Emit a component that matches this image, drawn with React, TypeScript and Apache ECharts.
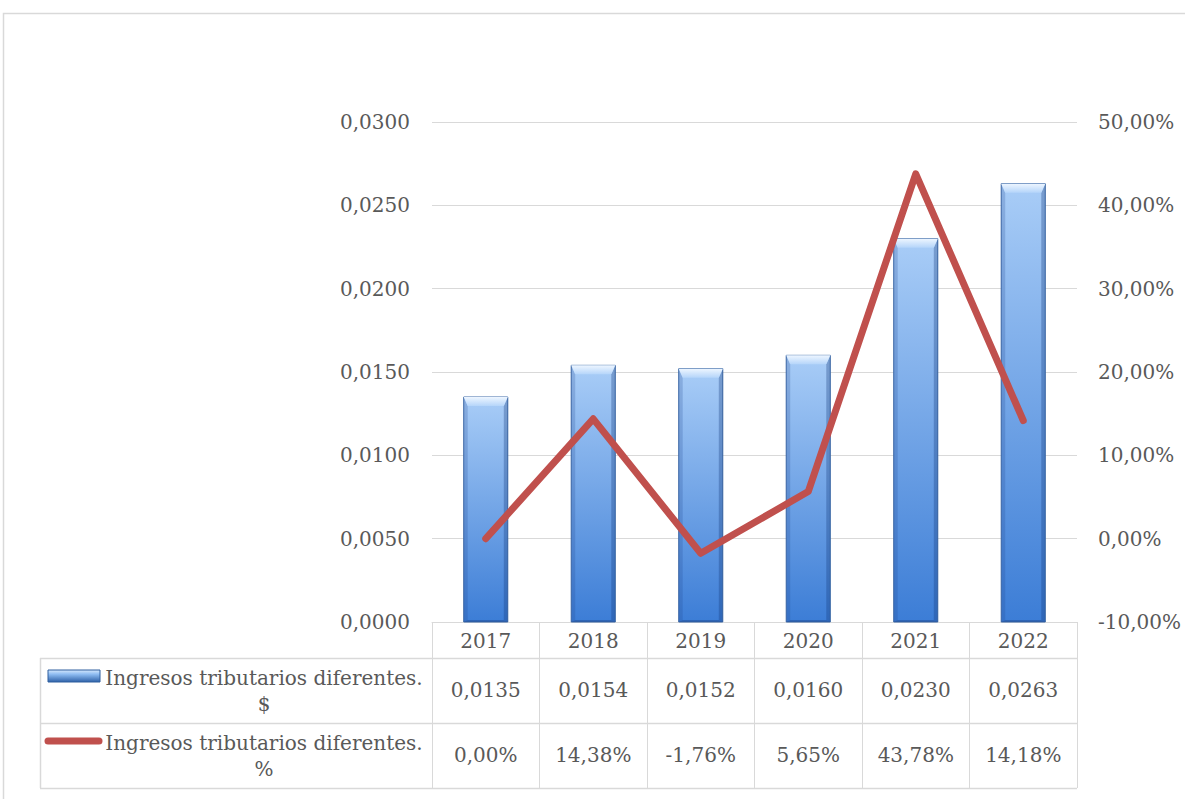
import React, { useEffect, useRef } from "react";
import * as echarts from "echarts";

const years = ["2017", "2018", "2019", "2020", "2021", "2022"];
const barValues = [0.0135, 0.0154, 0.0152, 0.016, 0.023, 0.0263];
const pctValues = [0.0, 14.38, -1.76, 5.65, 43.78, 14.18];
const seriesNames = ["Ingresos tributarios diferentes. $", "Ingresos tributarios diferentes. %"];

const FONT = "DejaVu Serif";
const TXT = "#595959";
const GRIDC = "#d9d9d9";
const W = 1185;
const H = 799;
const G = { left: 432, right: 108, top: 122, bottom: 177 };
const AXIS_Y = H - G.bottom;
const ROW1 = 36;
const ROW2 = 65;
const TABLE_LEFT = 40;

const fmt4 = (v: number) => v.toFixed(4).replace(".", ",");
const fmtPct = (v: number) => v.toFixed(2).replace(".", ",") + "%";
const wrapName = (s: string) => {
  const k = s.lastIndexOf(" ");
  return s.slice(0, k) + "\n" + s.slice(k + 1);
};

export default function App() {
  const ref = useRef<HTMLDivElement>(null);
  useEffect(() => {
    if (!ref.current) return;
    const chart = echarts.init(ref.current, null, { renderer: "svg" });
    const plotRight = W - G.right;
    const y1 = AXIS_Y + ROW1;
    const y2 = y1 + ROW2;
    const y3 = y2 + ROW2;
    const labelStyle = { color: TXT, fontFamily: FONT, fontSize: 20 };
    const hidden = { show: false };
    const option: any = {
      animation: false,
      grid: { left: G.left, right: G.right, top: G.top, bottom: G.bottom },
      xAxis: [
        {
          type: "category",
          data: years,
          axisLine: { lineStyle: { color: GRIDC, width: 1 } },
          axisTick: { show: true, length: ROW1 + 2 * ROW2, lineStyle: { color: GRIDC } },
          axisLabel: { ...labelStyle, margin: 9 },
        },
        {
          type: "category",
          data: years,
          position: "bottom",
          offset: 49,
          axisLine: hidden,
          axisTick: hidden,
          axisLabel: { ...labelStyle, margin: 9, formatter: (_: string, i: number) => fmt4(barValues[i]) },
        },
        {
          type: "category",
          data: years,
          position: "bottom",
          offset: 114,
          axisLine: hidden,
          axisTick: hidden,
          axisLabel: { ...labelStyle, margin: 9, formatter: (_: string, i: number) => fmtPct(pctValues[i]) },
        },
      ],
      yAxis: [
        {
          type: "value",
          min: 0,
          max: 0.03,
          interval: 0.005,
          axisLine: hidden,
          axisTick: hidden,
          splitLine: { lineStyle: { color: GRIDC } },
          axisLabel: { ...labelStyle, margin: 22, formatter: (v: number) => fmt4(v) },
        },
        {
          type: "value",
          min: -10,
          max: 50,
          interval: 10,
          axisLine: hidden,
          axisTick: hidden,
          splitLine: hidden,
          axisLabel: { ...labelStyle, margin: 21, formatter: (v: number) => fmtPct(v) },
        },
      ],
      series: [
        {
          name: seriesNames[0],
          type: "custom",
          xAxisIndex: 0,
          yAxisIndex: 0,
          data: barValues.map((v, i) => [i, v]),
          renderItem: (params: any, api: any) => {
            const i = api.value(0);
            const v = api.value(1);
            const p0 = api.coord([i, v]);
            const p1 = api.coord([i, 0]);
            const bw = api.size([1, 0])[0] * 0.41;
            const x0 = p0[0] - bw / 2;
            const y0 = p0[1];
            const h = p1[1] - p0[1];
            const b = 9;
            const s = 4;
            return {
              type: "group",
              children: [
                {
                  type: "rect",
                  shape: { x: x0, y: y0, width: bw, height: h },
                  style: {
                    fill: new echarts.graphic.LinearGradient(0, 0, 0, 1, [
                      { offset: 0, color: "#a9cdf7" },
                      { offset: 1, color: "#3c7dd6" },
                    ]),
                    stroke: "#3f6ba8",
                    lineWidth: 1,
                  },
                },
                {
                  type: "polygon",
                  shape: { points: [[x0, y0], [x0 + s, y0 + b], [x0 + s, y0 + h - 2], [x0, y0 + h]] },
                  style: { fill: "rgba(30,70,140,0.22)" },
                },
                {
                  type: "polygon",
                  shape: { points: [[x0 + bw, y0], [x0 + bw - s, y0 + b], [x0 + bw - s, y0 + h - 2], [x0 + bw, y0 + h]] },
                  style: { fill: "rgba(20,55,120,0.32)" },
                },
                {
                  type: "polygon",
                  shape: { points: [[x0, y0], [x0 + bw, y0], [x0 + bw - s, y0 + b], [x0 + s, y0 + b]] },
                  style: {
                    fill: new echarts.graphic.LinearGradient(0, 0, 0, 1, [
                      { offset: 0, color: "#eef6ff" },
                      { offset: 1, color: "#b5d5fa" },
                    ]),
                  },
                },
                {
                  type: "polygon",
                  shape: { points: [[x0, y0 + h], [x0 + bw, y0 + h], [x0 + bw - s, y0 + h - 2], [x0 + s, y0 + h - 2]] },
                  style: { fill: "rgba(20,55,120,0.35)" },
                },
              ],
            };
          },
          z: 2,
        },
        {
          name: seriesNames[1],
          type: "line",
          yAxisIndex: 1,
          data: pctValues,
          symbol: "none",
          lineStyle: { color: "#c0504d", width: 7, cap: "round", join: "round" },
          z: 3,
        },
      ],
      graphic: [
        {
          type: "rect",
          silent: true,
          shape: { x: 3.5, y: 13.5, width: W + 20, height: H + 20 },
          style: { fill: "none", stroke: GRIDC, lineWidth: 1.5 },
        },
        ...[y1, y2, y3].map((y) => ({
          type: "line",
          silent: true,
          shape: { x1: TABLE_LEFT, y1: y + 0.5, x2: plotRight, y2: y + 0.5 },
          style: { stroke: GRIDC, lineWidth: 1.5 },
        })),
        {
          type: "line",
          silent: true,
          shape: { x1: TABLE_LEFT + 0.5, y1: y1, x2: TABLE_LEFT + 0.5, y2: y3 },
          style: { stroke: GRIDC, lineWidth: 1.5 },
        },
        {
          type: "rect",
          silent: true,
          shape: { x: 48, y: y1 + 12, width: 52, height: 12 },
          style: {
            fill: new echarts.graphic.LinearGradient(0, 0, 0, 1, [
              { offset: 0, color: "#d6e8fc" },
              { offset: 0.35, color: "#8fbdf2" },
              { offset: 1, color: "#2f62a8" },
            ]),
            stroke: "#2f5f9e",
            lineWidth: 1,
          },
        },
        {
          type: "line",
          silent: true,
          shape: { x1: 48, y1: y2 + 18, x2: 99, y2: y2 + 18 },
          style: { stroke: "#c0504d", lineWidth: 7, lineCap: "round" },
        },
        {
          type: "text",
          silent: true,
          style: {
            text: wrapName(seriesNames[0]),
            x: 264,
            y: y1 + ROW2 / 2,
            align: "center",
            verticalAlign: "middle",
            lineHeight: 26,
            font: `20px "${FONT}"`,
            fill: TXT,
          },
        },
        {
          type: "text",
          silent: true,
          style: {
            text: wrapName(seriesNames[1]),
            x: 264,
            y: y2 + ROW2 / 2,
            align: "center",
            verticalAlign: "middle",
            lineHeight: 26,
            font: `20px "${FONT}"`,
            fill: TXT,
          },
        },
      ],
    };
    chart.setOption(option);
    return () => chart.dispose();
  }, []);
  return (
    <div
      ref={ref}
      style={{ position: "absolute", left: 0, top: 0, width: W, height: H, background: "#fff" }}
    />
  );
}
